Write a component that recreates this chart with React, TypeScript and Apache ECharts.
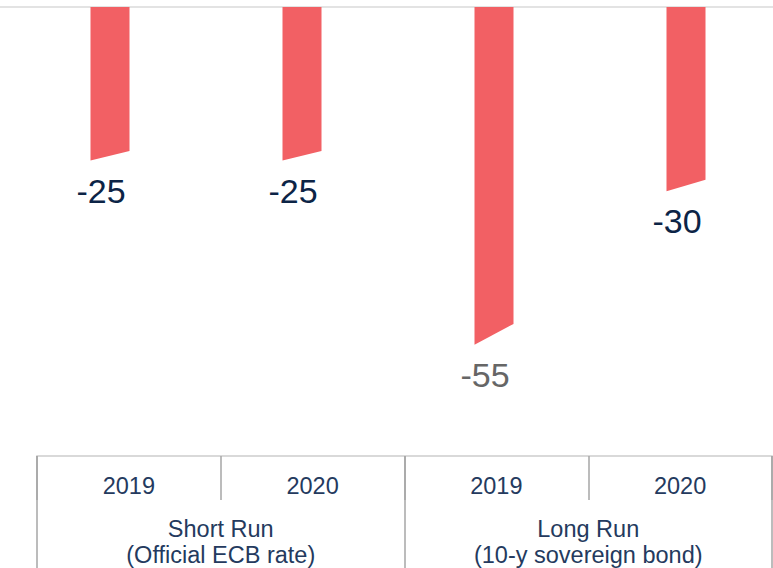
import React, { useEffect, useRef } from "react";
import * as echarts from "echarts";

const years = ["2019", "2020", "2019", "2020"];
const groups = ["Short Run\n(Official ECB rate)", "Long Run\n(10-y sovereign bond)"];
const changes = [-25, -25, -55, -30];
const labelColors = ["#0c2446", "#0c2446", "#666666", "#0c2446"];

const FONT = "'Liberation Sans', Arial, sans-serif";

export default function App() {
  const ref = useRef<HTMLDivElement>(null);
  useEffect(() => {
    if (!ref.current) return;
    const chart = echarts.init(ref.current, null, { renderer: "svg" });
    chart.setOption({
      animation: false,
      backgroundColor: "#ffffff",
      textStyle: { fontFamily: FONT },
      grid: [
        { left: 14, right: -9, top: 7, height: 430, outerBoundsMode: "none", containLabel: false },
        { left: 37, right: 1, top: 456, height: 112, outerBoundsMode: "none", containLabel: false },
      ],
      xAxis: [
        {
          type: "category",
          gridIndex: 0,
          data: years.map((y, i) => y + "_" + i),
          show: false,
        },
        {
          type: "category",
          gridIndex: 1,
          position: "top",
          data: years,
          axisLine: { show: true, onZero: false, lineStyle: { color: "#d9d9d9", width: 2 } },
          axisTick: { show: true, inside: true, length: 44, lineStyle: { color: "#a6a6a6", width: 1.5 } },
          axisLabel: {
            inside: true,
            margin: 30,
            verticalAlign: "middle",
            fontSize: 23.5,
            color: "#243a5e",
            fontFamily: FONT,
          },
        },
        {
          type: "category",
          gridIndex: 1,
          position: "top",
          data: groups,
          axisLine: { show: false, onZero: false },
          axisTick: { show: true, inside: true, length: 120, lineStyle: { color: "#a6a6a6", width: 1.5 } },
          axisLabel: {
            inside: true,
            margin: 86,
            verticalAlign: "middle",
            fontSize: 23.5,
            lineHeight: 26,
            color: "#243a5e",
            fontFamily: FONT,
          },
        },
      ],
      yAxis: [
        { type: "value", gridIndex: 0, min: -70, max: 0, show: false },
        { type: "value", gridIndex: 1, min: 0, max: 1, show: false },
      ],
      graphic: [
        {
          type: "line",
          shape: { x1: 0, y1: 7, x2: 773, y2: 7 },
          style: { stroke: "#e3e3e3", lineWidth: 2 },
          z: 1,
        },
      ],
      series: [
        {
          type: "custom",
          xAxisIndex: 0,
          yAxisIndex: 0,
          data: changes.map((v, i) => [i, v]),
          renderItem: (params: any, api: any) => {
            const idx = api.value(0);
            const v = api.value(1);
            const top = api.coord([idx, 0]);
            const bot = api.coord([idx, v]);
            const cx = top[0];
            const hw = 19.5;
            const depth = bot[1] - top[1];
            const slant = depth * 0.062;
            return {
              type: "group",
              children: [
                {
                  type: "polygon",
                  shape: {
                    points: [
                      [cx - hw, top[1]],
                      [cx + hw, top[1]],
                      [cx + hw, bot[1] - slant],
                      [cx - hw, bot[1]],
                    ],
                  },
                  style: { fill: "#f26064" },
                },
                {
                  type: "text",
                  x: cx - 9,
                  y: bot[1] + 30,
                  style: {
                    text: String(v),
                    fontSize: 34,
                    fontFamily: FONT,
                    fill: labelColors[params.dataIndex],
                    align: "center",
                    verticalAlign: "middle",
                  },
                },
              ],
            };
          },
        },
      ],
    });
    return () => chart.dispose();
  }, []);
  return (
    <div
      ref={ref}
      style={{ position: "fixed", left: 0, top: 0, width: 773, height: 568 }}
    />
  );
}
